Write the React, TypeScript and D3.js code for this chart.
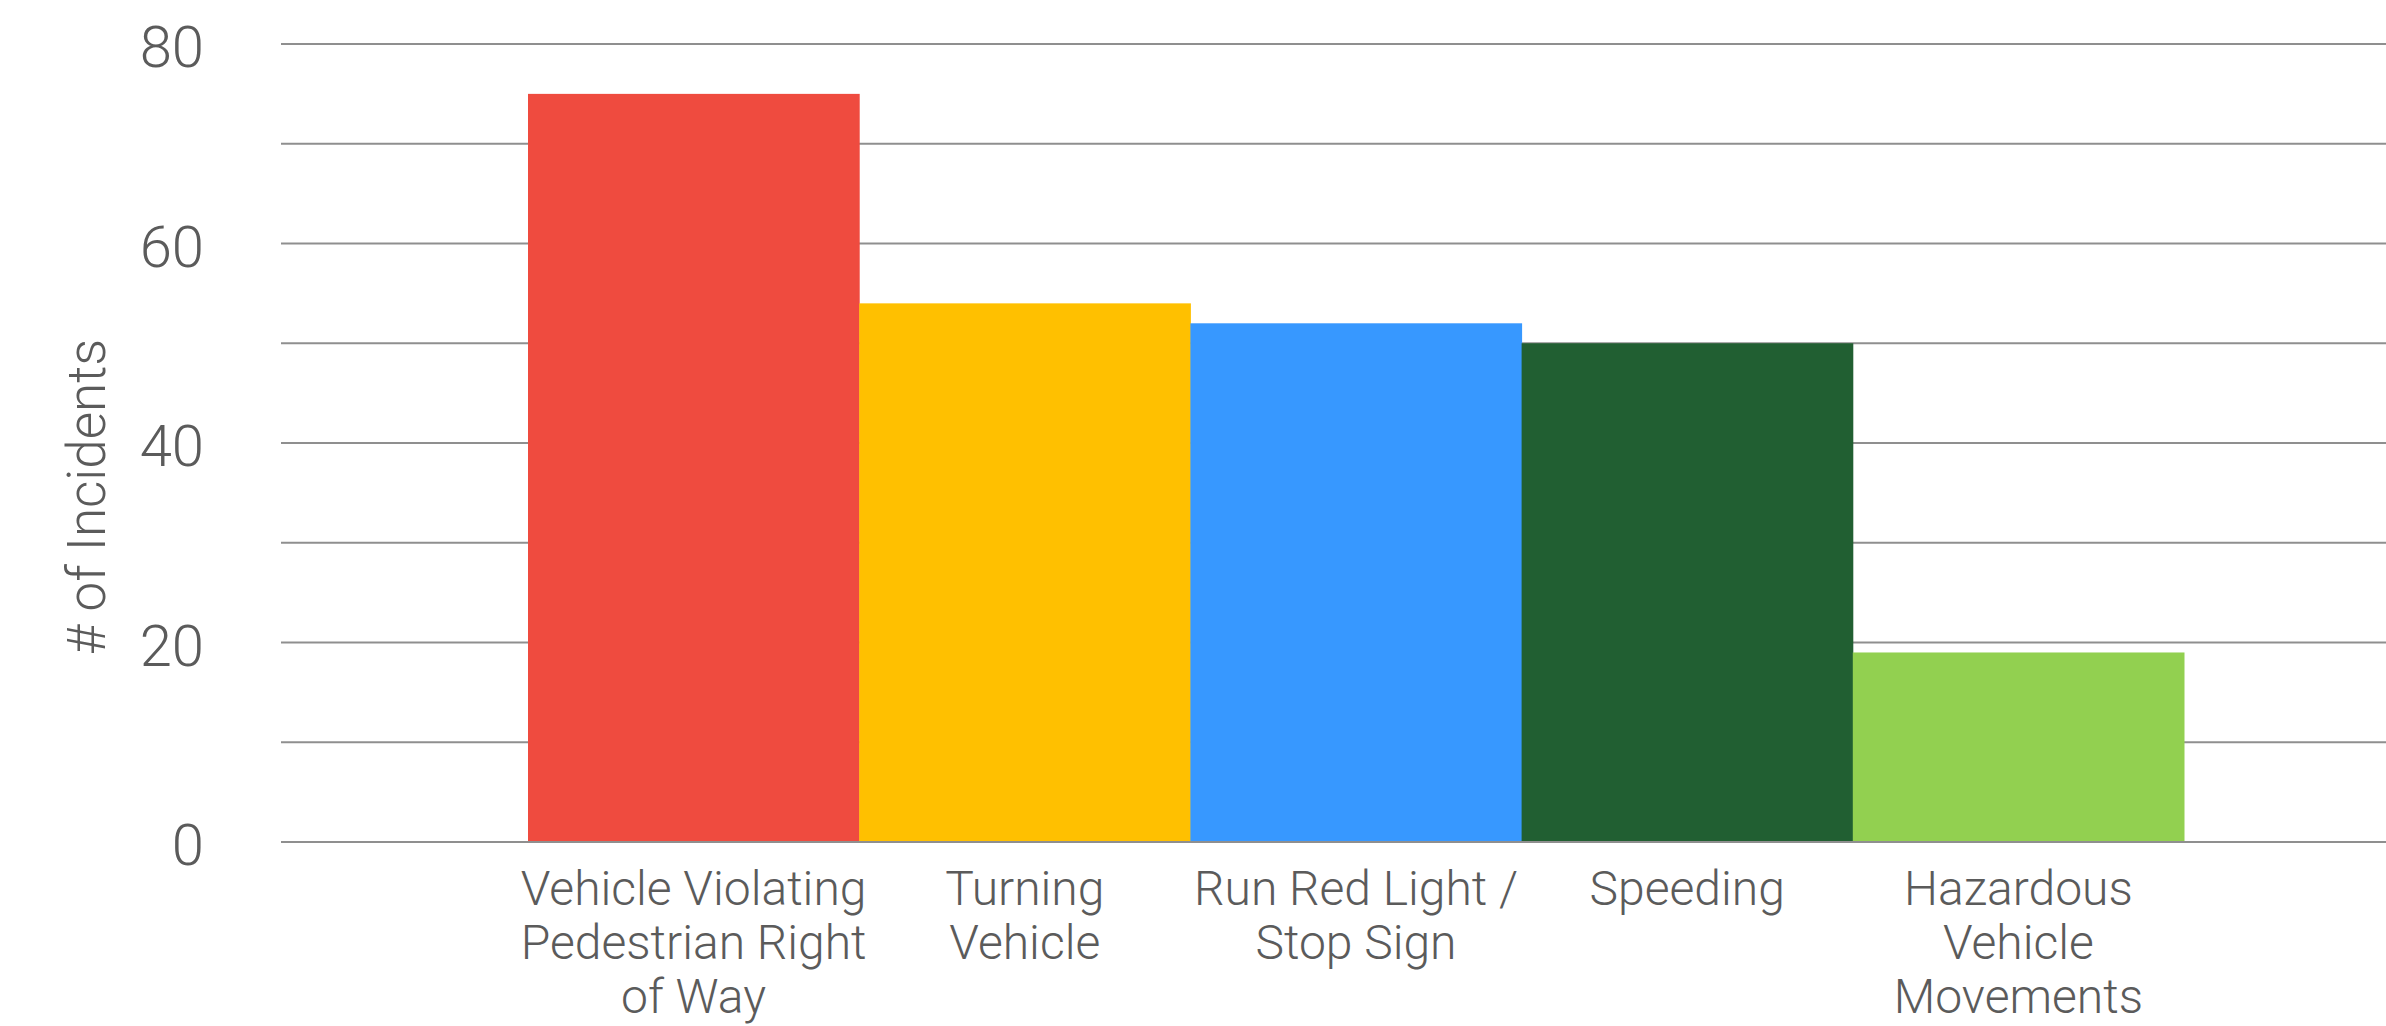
import React, { useEffect, useRef } from 'react';
import * as d3 from 'd3';

const categories = [
  'Vehicle Violating Pedestrian Right of Way',
  'Turning Vehicle',
  'Run Red Light / Stop Sign',
  'Speeding',
  'Hazardous Vehicle Movements',
];
const labelLines = [
  ['Vehicle Violating', 'Pedestrian Right', 'of Way'],
  ['Turning', 'Vehicle'],
  ['Run Red Light /', 'Stop Sign'],
  ['Speeding'],
  ['Hazardous', 'Vehicle', 'Movements'],
];
const incidents = [75, 54, 52, 50, 19];
const barColors = ['#ef4b3f', '#ffc000', '#3798ff', '#215f32', '#92d050'];
const gridValues = [0, 10, 20, 30, 40, 50, 60, 70, 80];
const yTickLabels = [0, 20, 40, 60, 80];

const W = 2386;
const H = 1026;
const FONT = 'Roboto, "Liberation Sans", sans-serif';
const TEXT = '#5b5b5b';

const App = () => {
  const ref = useRef<SVGSVGElement>(null);

  useEffect(() => {
    document.body.style.margin = '0';
    const svg = d3.select(ref.current);
    svg.selectAll('*').remove();

    const gridLeft = 281;
    const x = d3.scaleBand<string>().domain(categories).range([528, 2184]).padding(0);
    const y = d3.scaleLinear().domain([0, 80]).range([842, 44]);

    // gridlines
    svg
      .append('g')
      .selectAll('line')
      .data(gridValues)
      .enter()
      .append('line')
      .attr('x1', gridLeft)
      .attr('x2', W)
      .attr('y1', (d) => y(d))
      .attr('y2', (d) => y(d))
      .attr('stroke', '#8f8f8f')
      .attr('stroke-width', 2);

    // bars
    svg
      .append('g')
      .selectAll('rect')
      .data(incidents)
      .enter()
      .append('rect')
      .attr('x', (d, i) => x(categories[i]) as number)
      .attr('width', x.bandwidth() + 0.5)
      .attr('y', (d) => y(d))
      .attr('height', (d) => y(0) - y(d))
      .attr('fill', (d, i) => barColors[i]);

    // baseline on top of bars
    svg
      .append('line')
      .attr('x1', gridLeft)
      .attr('x2', W)
      .attr('y1', y(0))
      .attr('y2', y(0))
      .attr('stroke', '#8f8f8f')
      .attr('stroke-width', 2);

    // y tick labels
    svg
      .append('g')
      .selectAll('text')
      .data(yTickLabels)
      .enter()
      .append('text')
      .attr('x', 204)
      .attr('y', (d) => y(d) + 23)
      .attr('text-anchor', 'end')
      .attr('font-family', FONT)
      .attr('font-weight', 300)
      .attr('font-size', 58)
      .attr('fill', TEXT)
      .text((d) => d);

    // category labels
    const cat = svg
      .append('g')
      .selectAll('text')
      .data(categories)
      .enter()
      .append('text')
      .attr('text-anchor', 'middle')
      .attr('font-family', FONT)
      .attr('font-weight', 300)
      .attr('font-size', 48)
      .attr('fill', TEXT);
    cat
      .selectAll('tspan')
      .data((d, i) => labelLines[i].map((t) => ({ t, c: d })))
      .enter()
      .append('tspan')
      .attr('x', (d) => (x(d.c) as number) + x.bandwidth() / 2)
      .attr('y', (d, j) => 905 + j * 54)
      .text((d) => d.t);

    // y axis title
    svg
      .append('text')
      .attr('transform', 'translate(105, 497) rotate(-90)')
      .attr('text-anchor', 'middle')
      .attr('font-family', FONT)
      .attr('font-weight', 300)
      .attr('font-size', 53)
      .attr('fill', TEXT)
      .text('# of Incidents');
  }, []);

  return (
    <svg ref={ref} width={W} height={H} style={{ display: 'block', background: '#fff' }}></svg>
  );
};

export default App;
